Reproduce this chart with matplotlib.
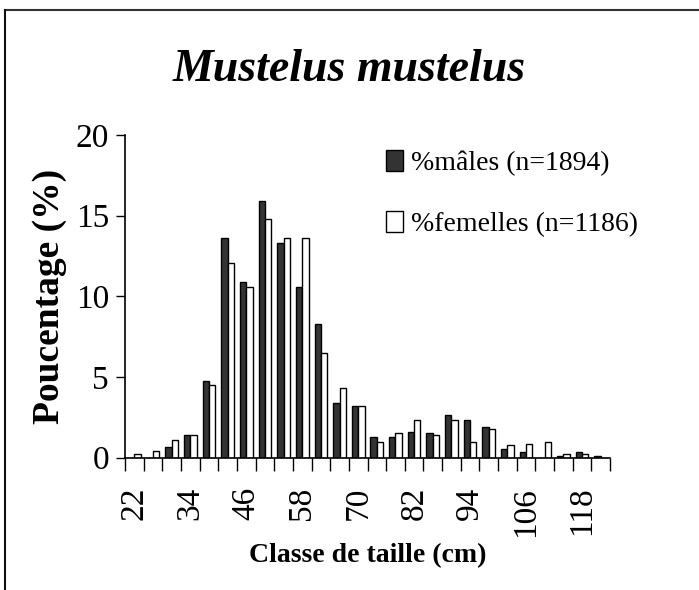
import matplotlib
matplotlib.use("Agg")
import matplotlib.pyplot as plt
from matplotlib.lines import Line2D
import numpy as np

# Data
size_classes = list(range(22, 123, 4))  # 22..122 cm, step 4
males = [0, 0, 0.64, 1.37, 4.72, 13.64, 10.91, 15.88, 13.33, 10.6, 8.28, 3.37, 3.17,
         1.28, 1.28, 1.61, 1.49, 2.63, 2.32, 1.9, 0.54, 0.33, 0, 0.12, 0.33, 0.12]
females = [0.23, 0.41, 1.06, 1.37, 4.49, 12.05, 10.6, 14.8, 13.64, 13.64, 6.5, 4.33, 3.17,
           0.95, 1.49, 2.32, 1.37, 2.32, 0.95, 1.78, 0.75, 0.83, 0.95, 0.21, 0.21, 0]
label_males = "%mâles (n=1894)"
label_females = "%femelles (n=1186)"
title = "Mustelus mustelus"
xlabel = "Classe de taille (cm)"
ylabel = "Poucentage (%)"
yticks = [0, 5, 10, 15, 20]

plt.rcParams['font.family'] = ['Liberation Serif', 'DejaVu Serif']

W, H = 699, 590
fig = plt.figure(figsize=(W / 100, H / 100), dpi=100)
ax = fig.add_axes([125 / W, 1 - 457.5 / H, (610 - 125) / W, (457.5 - 135) / H])

x = np.arange(len(size_classes))
bw = 0.34
b1 = ax.bar(x - bw / 2, males, width=bw, color='#333333', edgecolor='black',
            linewidth=1.0, label=label_males)
b2 = ax.bar(x + bw / 2, females, width=bw, color='white', edgecolor='black',
            linewidth=1.0, label=label_females)

ax.set_xlim(-0.5, len(size_classes) - 0.5)
ax.set_ylim(0, 20)

for s in ['top', 'right']:
    ax.spines[s].set_visible(False)
ax.spines['left'].set_linewidth(1.2)
ax.spines['bottom'].set_linewidth(1.2)

ax.set_yticks(yticks)
ax.set_yticklabels([str(v) for v in yticks], fontsize=24)
ax.tick_params(axis='y', direction='out', length=6.5, width=1, pad=5)

# major ticks at category boundaries, labels on minor ticks every 3 classes
ax.set_xticks(np.arange(-0.5, len(size_classes), 1.0))
ax.set_xticklabels([])
ax.tick_params(axis='x', which='major', direction='out', length=9, width=1)
lab_idx = list(range(0, len(size_classes), 3))
ax.set_xticks(lab_idx, minor=True)
ax.set_xticklabels([str(size_classes[i]) for i in lab_idx], minor=True,
                   rotation=90, fontsize=24)
ax.tick_params(axis='x', which='minor', length=0, pad=21)

ax.set_xlabel(xlabel, fontsize=20, fontweight='bold', labelpad=5)
ax.set_ylabel(ylabel, fontsize=27, fontweight='bold', labelpad=6)

fig.text(0.5, 1 - 70 / H, title, fontsize=33, fontweight='bold', fontstyle='italic',
         ha='center', va='center')

leg = ax.legend(handles=[b1, b2], loc='upper left',
                bbox_to_anchor=(386 / W, 1 - 150 / H), bbox_transform=fig.transFigure,
                frameon=False, fontsize=20, borderpad=0, borderaxespad=0,
                handlelength=0.6, handleheight=0.8, handletextpad=0.3,
                labelspacing=1.25)

# figure border (top and left visible)
fig.add_artist(Line2D([5 / W, 1], [1 - 10 / H, 1 - 10 / H], transform=fig.transFigure,
                      color='#333333', linewidth=1.5))
fig.add_artist(Line2D([5 / W, 5 / W], [0, 1 - 10 / H], transform=fig.transFigure,
                      color='#111111', linewidth=1.5))

fig.savefig("out.png", dpi=100)
